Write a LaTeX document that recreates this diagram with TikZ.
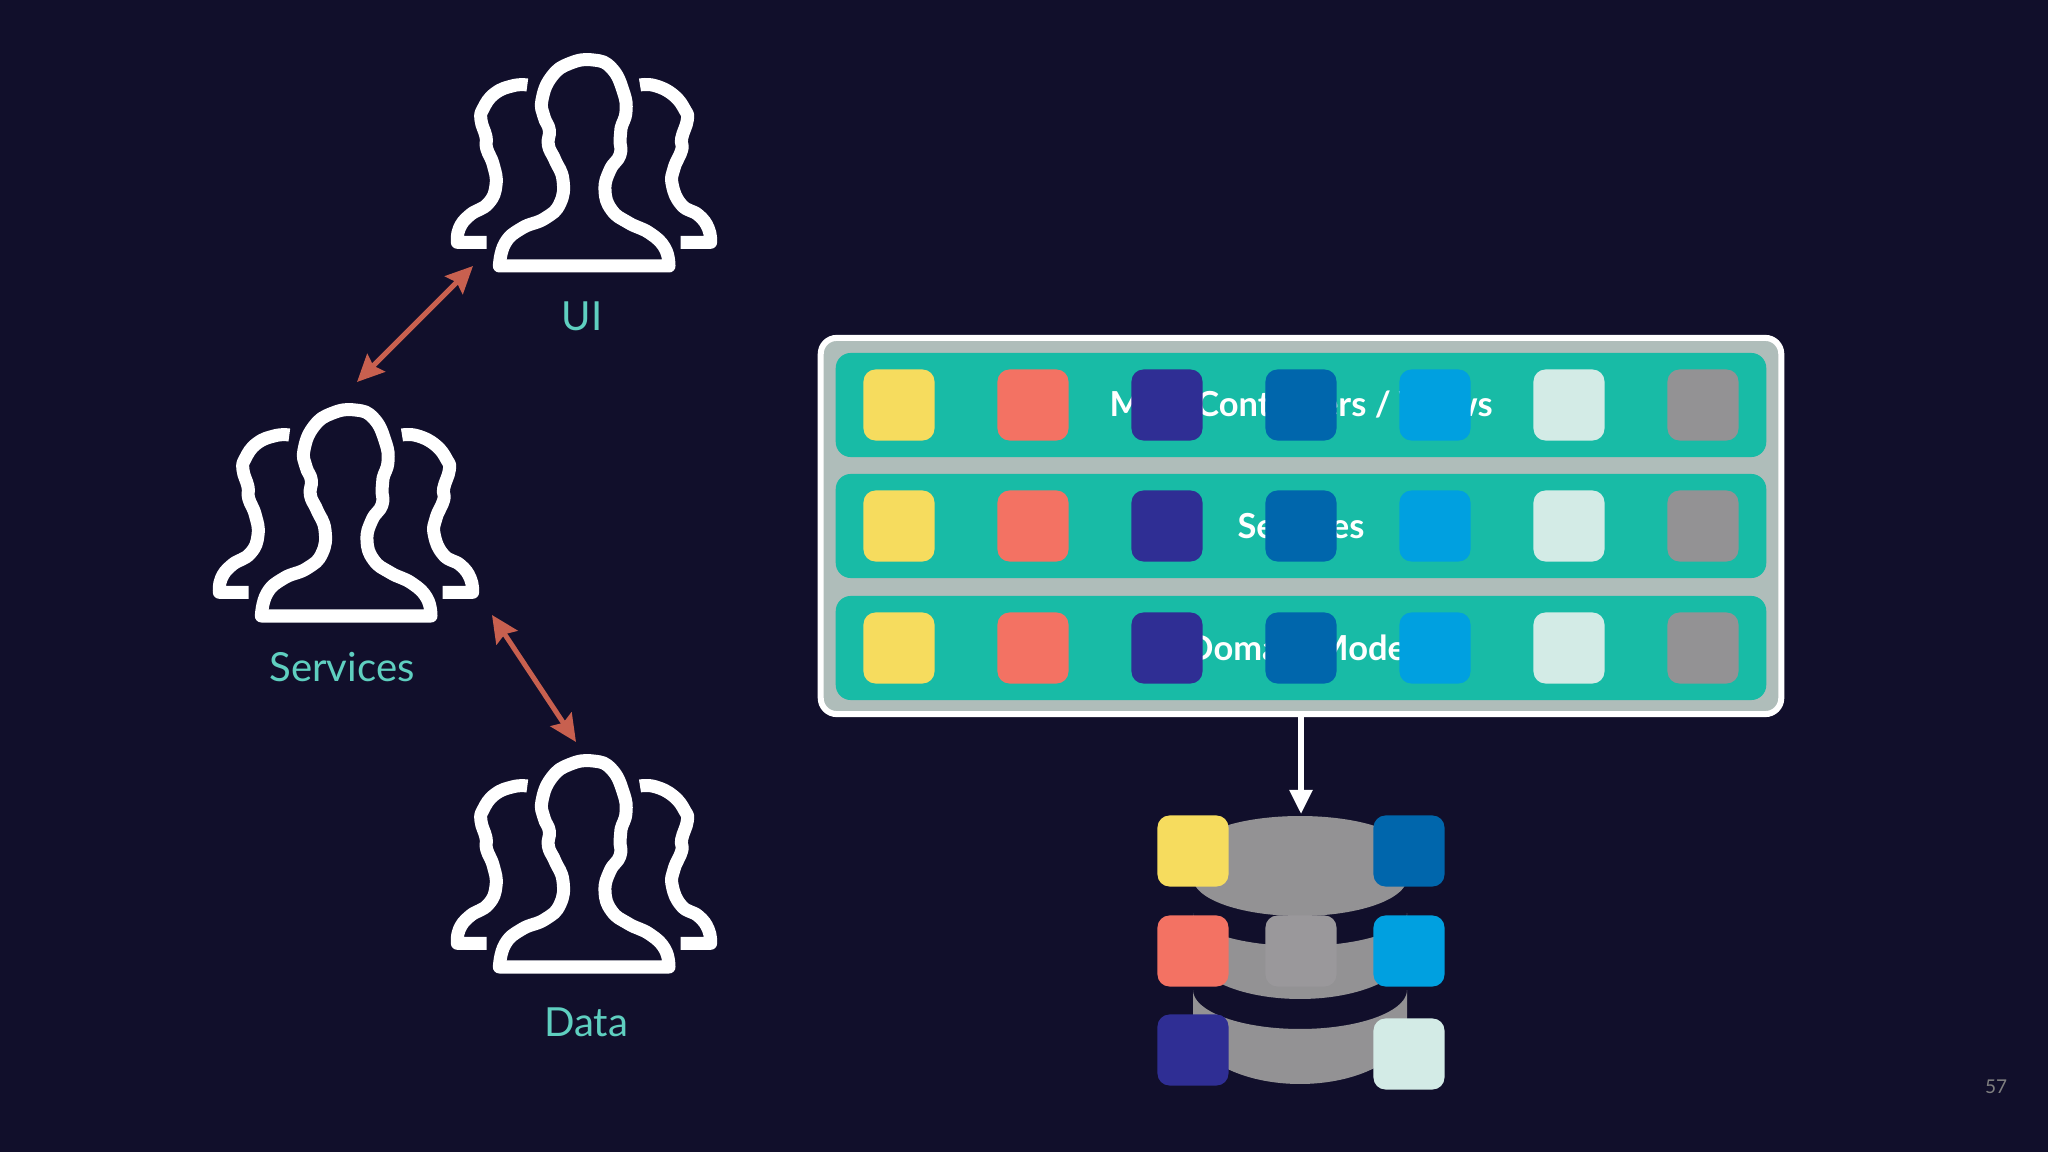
\documentclass[tikz,border=0pt]{standalone}
\usepackage{fontspec}
\setmainfont{Lato}
\usetikzlibrary{arrows.meta}
\definecolor{bgnavy}{HTML}{110F2B}
\definecolor{labelteal}{HTML}{5FCFC0}
\definecolor{rowteal}{HTML}{18BBA6}
\definecolor{panelgrey}{HTML}{AFBDBA}
\definecolor{dbgrey}{HTML}{939294}
\definecolor{midgrey}{HTML}{9A989B}
\definecolor{rusty}{HTML}{C8604F}
\definecolor{cyellow}{HTML}{F6DC5E}
\definecolor{csalmon}{HTML}{F37263}
\definecolor{cnavy}{HTML}{2F2E94}
\definecolor{cblue}{HTML}{0066AC}
\definecolor{ccyan}{HTML}{00A0E0}
\definecolor{cmint}{HTML}{D3EBE6}
\tikzset{
 chip/.style={rounded corners=0.12cm, minimum size=0.71cm, inner sep=0pt},
 layer/.style={fill=rowteal, rounded corners=0.15cm, minimum width=9.30cm, minimum height=1.04cm, inner sep=0pt, text=white, font=\fontsize{9.8pt}{11pt}\selectfont\bfseries},
 teamlabel/.style={text=labelteal, font=\fontsize{11.4pt}{13pt}\selectfont, inner sep=0pt},
 talk/.style={rusty, line width=0.05cm, <->, >={Stealth[length=0.27cm,width=0.25cm,inset=0.04cm]}},
 outline/.style={white, line width=0.13cm, line join=round, scale=1/3},
 people/.pic={
 \draw[outline] (238,708)--(747,708)
 -- plot[smooth, tension=0.8] coordinates {(747,708) (735,655) (690,610) (625,578) (575,540) (555,480) (570,420) (600,375) (600,330) (603,295) (618,245) (610,185) (575,115) (520,90) (450,100) (395,140) (366,210) (372,260) (388,300) (385,345) (405,390) (429,450) (420,520) (375,565) (305,595) (255,640) (238,708)} -- cycle;
 \draw[outline]
 plot[smooth, tension=0.8] coordinates {(322,165) (280,167) (225,190) (190,235) (183,270) (198,320) (200,355) (220,405) (228,465) (205,520) (150,555) (118,595) (112,637)} -- (200,637);
 \draw[outline]
 plot[smooth, tension=0.8] coordinates {(660,165) (705,167) (760,195) (795,240) (802,270) (785,325) (785,360) (762,415) (757,465) (785,525) (835,555) (865,595) (872,637)} -- (782,637);
 }
}
\begin{document}
\begin{tikzpicture}[x=0.01cm, y=-0.01cm]
 \useasboundingbox (0,0) rectangle (2048,1152);
 \fill[bgnavy] (0,0) rectangle (2048,1152);
 % the three teams
 \pic (uipeople) at (420,30) {people};
 \pic (svcpeople) at (182,380) {people};
 \pic (datapeople) at (420,731) {people};
 \node[teamlabel] (uilabel) at (582,316) {UI};
 \node[teamlabel] (svclabel) at (342,667) {Services};
 \node[teamlabel] (datalabel) at (586,1022) {Data};
 \coordinate (uitip) at (473,266);
 \coordinate (svctop) at (357,382);
 \coordinate (svcbottom) at (492,615);
 \coordinate (datatip) at (576,742);
 \draw[talk] (svctop) -- (uitip);
 \draw[talk] (svcbottom) -- (datatip);
 % the layered box
 \node[draw=white, fill=panelgrey, line width=0.06cm, rounded corners=0.16cm, minimum width=9.60cm, minimum height=3.76cm] (panel) at (1301,526) {};
 \node[layer] (mvcrow) at (1301,405) {MVC Controllers / Views};
 \node[layer] (svcrow) at (1301,526) {Services};
 \node[layer] (domainrow) at (1301,648) {Domain Model};
 \foreach \name/\col/\x in {a/cyellow/899, b/csalmon/1033, c/cnavy/1167, d/cblue/1301, e/ccyan/1435, f/cmint/1569, g/dbgrey/1703}{
 \node[chip, fill=\col] (mvc\name) at (\x,405) {};
 \node[chip, fill=\col] (svc\name) at (\x,526) {};
 \node[chip, fill=\col] (dom\name) at (\x,648) {};}
 % the database
 \coordinate (dbtop) at (1301,814);
 \fill[dbgrey] plot[domain=180:360, samples=60] ({1300+107*cos(\x)},{851+35*sin(\x)})
 -- plot[domain=0:180, samples=60] ({1300+107*cos(\x)},{878+38*sin(\x)}) -- cycle;
 \fill[dbgrey] plot[domain=180:0, samples=60] ({1300+107*cos(\x)},{913+33*sin(\x)})
 -- plot[domain=0:180, samples=60] ({1300+107*cos(\x)},{952+47*sin(\x)}) -- cycle;
 \fill[dbgrey] plot[domain=180:0, samples=60] ({1300+107*cos(\x)},{990+39*sin(\x)})
 -- plot[domain=0:180, samples=60] ({1300+107*cos(\x)},{1027+57*sin(\x)}) -- cycle;
 \foreach \name/\col/\x/\y in {ya/cyellow/1193/851, sa/csalmon/1193/951, na/cnavy/1193/1050, bl/cblue/1409/851, cy/ccyan/1409/951, mi/cmint/1409/1054, mid/midgrey/1301/951}{
 \node[chip, fill=\col] (db\name) at (\x,\y) {};}
 \draw[white, line width=0.055cm, -{Triangle[length=0.24cm,width=0.22cm]}] (panel.south) -- (dbtop);
 \node[text=gray, font=\fontsize{5.4pt}{6pt}\selectfont, inner sep=0pt] (pagenum) at (1996,1087) {57};
\end{tikzpicture}
\end{document}
